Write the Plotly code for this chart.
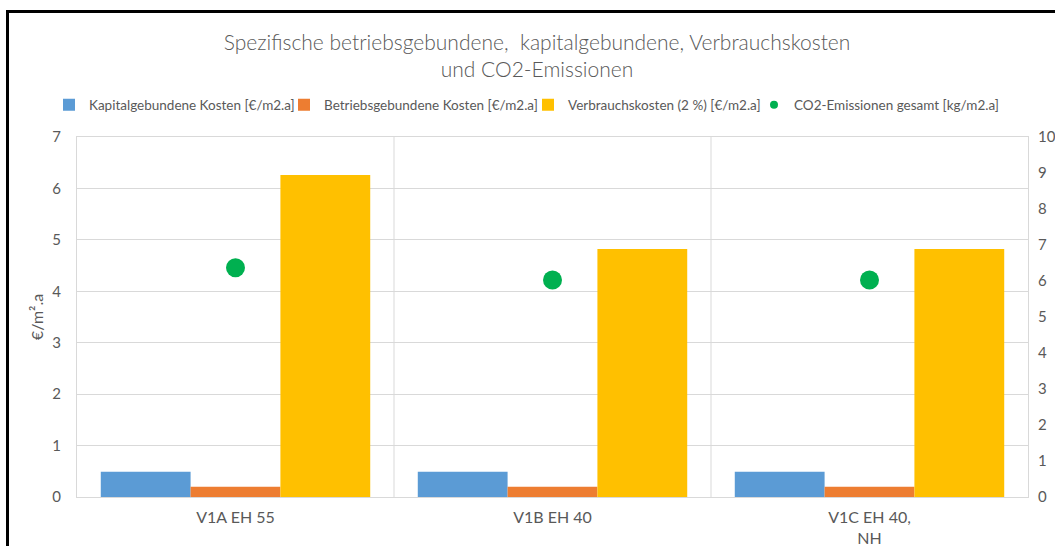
import plotly.graph_objects as go

categories = ["V1A EH 55", "V1B EH 40", "V1C EH 40,<br>NH"]
kapital = [0.49, 0.49, 0.49]
betrieb = [0.20, 0.20, 0.20]
verbrauch = [6.26, 4.82, 4.82]
co2 = [6.37, 6.03, 6.03]

names = ["Kapitalgebundene Kosten [€/m2.a]", "Betriebsgebundene Kosten [€/m2.a]",
         "Verbrauchskosten (2 %) [€/m2.a]", "CO2-Emissionen gesamt [kg/m2.a]"]
colors = ["#5B9BD5", "#ED7D31", "#FFC000", "#00B050"]
legend_widths = [190, 199, 181, 204]

FONT = "Lato, Carlito, Calibri, sans-serif"
GRAY = "#595959"
GRID = "#D9D9D9"

fig = go.Figure()
for vals, name, col, lw in zip([kapital, betrieb, verbrauch], names[:3], colors[:3], legend_widths[:3]):
    fig.add_trace(go.Bar(x=categories, y=vals, name=name, marker=dict(color=col, line=dict(width=0)),
                         yaxis="y", legendwidth=lw))
fig.add_trace(go.Scatter(x=categories, y=co2, name=names[3], mode="markers",
                         marker=dict(color=colors[3], size=19), yaxis="y2", showlegend=False,
                         legendgroup="co2"))
# legend entry with small marker, like the reference
fig.add_trace(go.Scatter(x=[None], y=[None], name=names[3], mode="markers",
                         marker=dict(color=colors[3], size=8), yaxis="y2", legendgroup="co2",
                         legendwidth=legend_widths[3]))

W, H = 1055, 546
L, R, T, B = 77, 27, 137, 49
pw, ph = W - L - R, H - T - B

def px_x(p):
    return (p - L) / pw

def px_y(p):
    return (H - B - p) / ph

fig.update_layout(
    width=W, height=H,
    margin=dict(l=L, r=R, t=T, b=B),
    paper_bgcolor="white", plot_bgcolor="white",
    font=dict(family=FONT, color=GRAY, size=12),
    barmode="group", bargap=0.15, bargroupgap=0,
    title=dict(text="Spezifische betriebsgebundene,  kapitalgebundene, Verbrauchskosten<br>und CO2-Emissionen",
               x=537 / W, xanchor="center", y=1 - 50 / H, yanchor="middle",
               font=dict(family=FONT, size=21, color=GRAY, weight=300)),
    legend=dict(orientation="h", x=px_x(49), xanchor="left", y=px_y(105), yanchor="middle",
                font=dict(family=FONT, size=13.5, color=GRAY), itemwidth=30, traceorder="normal",
                bgcolor="rgba(0,0,0,0)", borderwidth=0),
    xaxis=dict(showgrid=False, showline=True, linecolor=GRID, mirror=True, ticks="",
               tickfont=dict(size=16, color=GRAY), range=[-0.5, 2.5], automargin=False,
               ticklabelstandoff=6),
    yaxis=dict(range=[0, 7], dtick=1, showgrid=True, gridcolor=GRID, showline=True, linecolor=GRID,
               mirror=True, zeroline=False, ticks="", tickfont=dict(size=15, color=GRAY),
               automargin=False, ticklabelstandoff=12,
               title=dict(text="€/m².a", font=dict(size=16, color=GRAY), standoff=4)),
    yaxis2=dict(range=[0, 10], dtick=1, overlaying="y", side="right", showgrid=False, zeroline=False,
                showline=False, ticks="", tickfont=dict(size=15, color=GRAY), automargin=False,
                ticklabelstandoff=9),
    showlegend=True,
)

# category separators
for xs in [0.5, 1.5]:
    fig.add_shape(type="line", xref="x", yref="paper", x0=xs, x1=xs, y0=0, y1=1,
                  line=dict(color=GRID, width=1), layer="below")

# outer black frame (cropped at right/bottom)
fig.add_shape(type="rect", xref="paper", yref="paper",
              x0=px_x(7.5), x1=px_x(1070), y0=px_y(570), y1=px_y(11.5),
              line=dict(color="black", width=3), fillcolor="rgba(0,0,0,0)")

fig.write_html("out.html", config={"displayModeBar": False},
               post_script="document.body.style.margin='0';document.body.style.overflow='hidden';")
